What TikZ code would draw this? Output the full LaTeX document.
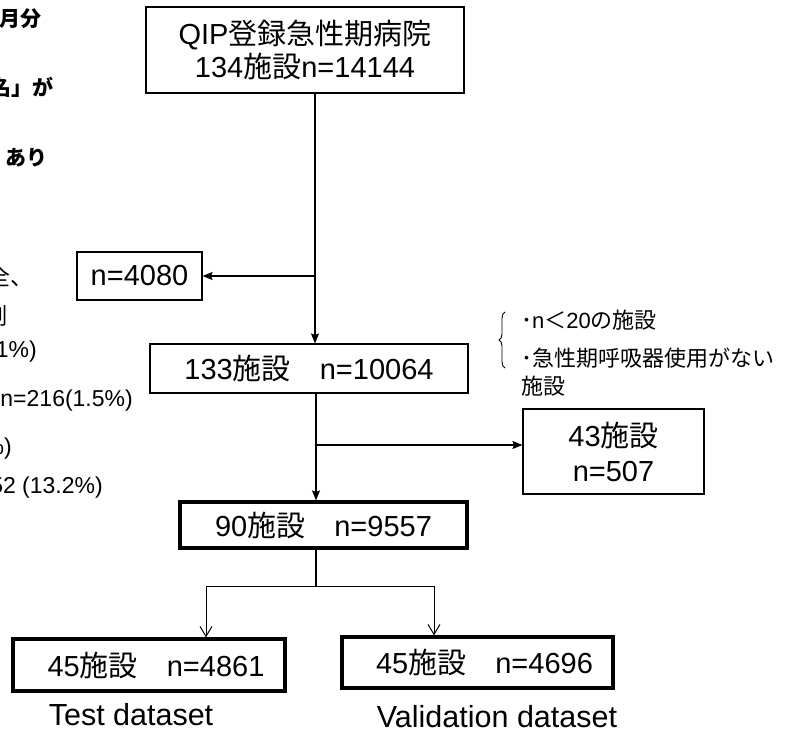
\documentclass[tikz,border=0pt]{standalone}
\usepackage{fontspec}
\setmainfont{Liberation Sans}
\newfontfamily\jp{Noto Sans CJK JP}
\usetikzlibrary{arrows.meta,decorations.pathreplacing}
\newcommand\J[1]{{\jp #1}}
\begin{document}
\begin{tikzpicture}[x=1pt,y=-1pt,
  box/.style={draw, line width=1.1pt, inner sep=0pt, align=center, font=\fontsize{29}{33}\selectfont},
  thickbox/.style={box, line width=3.2pt},
  arr/.style={line width=1.1pt, -{Stealth[length=10pt,width=8pt,inset=1.5pt]}},
  openarr/.style={line width=1pt, -{Straight Barb[length=10pt,width=12pt]}},
  conn/.style={line width=1.1pt},
  lt/.style={inner sep=0pt, anchor=east, font=\fontsize{23}{27}\selectfont},
  ltb/.style={inner sep=0pt, anchor=east, font=\fontsize{21}{25}\selectfont\bfseries},
  note/.style={inner sep=0pt, anchor=west, font=\fontsize{22}{26}\selectfont},
  lab/.style={inner sep=0pt, font=\fontsize{30.5}{34}\selectfont}]
\useasboundingbox (0,0) rectangle (793,730);

% left (cut-off) texts
\node[ltb] (l1) at (42,19) {\J{月分}};
\node[ltb] (l2) at (54,87) {\J{名」が}};
\node[ltb] (l3) at (48,158) {\J{あり}};
\node[lt] (l4) at (34,276) {\J{全、}};
\node[lt] (l5) at (8,316) {\J{例}};
\node[lt] (l6) at (37,352) {1\%)};
\node[lt] (l7) at (133,401) {n=216(1.5\%)};
\node[lt] (l8) at (12,449) {\%)};
\node[lt] (l9) at (103,488) {52 (13.2\%)};

% boxes
\node[box, minimum width=318pt, minimum height=86pt] (top) at (305,50)
  {QIP\J{登録急性期病院}\\134\J{施設}n=14144};
\node[box, minimum width=125pt, minimum height=48pt] (n4080) at (139.5,276) {n=4080};
\node[box, minimum width=318pt, minimum height=49pt] (b133) at (309,368.5) {133\J{施設　}n=10064};
\node[box, minimum width=181pt, minimum height=85pt, font=\fontsize{29}{35}\selectfont] (b43) at (613.5,451.5) {43\J{施設}\\n=507};
\node[thickbox, minimum width=287pt, minimum height=46pt] (b90) at (323.5,525) {90\J{施設　}n=9557};
\node[thickbox, minimum width=272pt, minimum height=52pt] (bt) at (149,665) {\hspace*{14pt}45\J{施設　}n=4861};
\node[thickbox, minimum width=271pt, minimum height=51pt] (bv) at (477.5,662.5) {\hspace*{14pt}45\J{施設　}n=4696};

% labels
\node[lab] (tl) at (131,715) {Test dataset};
\node[lab] (vl) at (497,717) {Validation dataset};

% exclusion notes
\draw[conn, line width=0.9pt, decorate, decoration={brace, amplitude=6pt}] (505,368) -- (505,312);
\node[note] (n1) at (521,320) {\J{･}n\J{＜}20\J{の施設}};
\node[note] (n2) at (521,358) {\J{･急性期呼吸器使用がない}};
\node[note] (n3) at (521,386) {\J{施設}};

% connectors
\coordinate (j1) at (315,276);
\coordinate (j2) at (316,445);
\coordinate (j3) at (316,586);
\coordinate (jl) at (206,586);
\coordinate (jr) at (434,586);
\draw[arr] (top.south -| j1) -- (j1 |- b133.north);
\draw[arr] (j1) -- (n4080.east |- j1);
\draw[arr] (b133.south -| j2) -- (j2 |- b90.north);
\draw[arr] (j2) -- (j2 -| b43.west);
\draw[conn] (b90.south -| j3) -- (j3);
\draw[openarr] (j3) -- (jl) -- (jl |- bt.north);
\draw[openarr] (j3) -- (jr) -- (jr |- bv.north);
\end{tikzpicture}
\end{document}
